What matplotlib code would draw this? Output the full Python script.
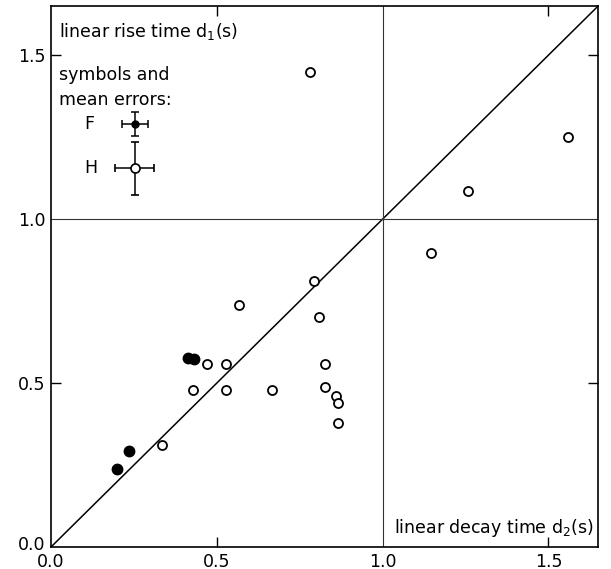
import matplotlib.pyplot as plt
import matplotlib.transforms as mtransforms

# F events (filled symbols): decay time d2, rise time d1
f_decay = [0.200, 0.234, 0.412, 0.432]
f_rise = [0.238, 0.292, 0.577, 0.572]

# H events (open symbols)
h_decay = [0.336, 0.428, 0.470, 0.528, 0.529, 0.567, 0.665, 0.780, 0.793, 0.808,
           0.825, 0.826, 0.858, 0.866, 0.866, 1.147, 1.258, 1.558]
h_rise = [0.311, 0.478, 0.558, 0.558, 0.479, 0.739, 0.479, 1.449, 0.812, 0.700,
          0.488, 0.559, 0.459, 0.439, 0.379, 0.898, 1.087, 1.249]

# mean errors shown in the key
f_key = (0.253, 1.290)
f_err = (0.040, 0.038)
h_key = (0.252, 1.155)
h_err = (0.059, 0.081)

ticks = [0.0, 0.5, 1.0, 1.5]
tick_labels = ['0.0', '0.5', '1.0', '1.5']
lim = 1.65

fig = plt.figure(figsize=(6.11, 5.69), dpi=100)
ax = fig.add_axes([0.0835, 0.0387, 0.8955, 0.9508])

ax.set_xlim(0, lim)
ax.set_ylim(0, lim)

# reference lines
ax.plot([0, lim], [0, lim], color='black', lw=1.1)
ax.axvline(1.0, color='#333333', lw=0.8)
ax.axhline(1.0, color='#333333', lw=0.8)

ax.plot(h_decay, h_rise, 'o', ms=6.5, mfc='white', mec='black', mew=1.3, ls='none')
ax.plot(f_decay, f_rise, 'o', ms=7.5, mfc='black', mec='black', ls='none')

# key with mean errors
ax.errorbar(f_key[0], f_key[1], xerr=f_err[0], yerr=f_err[1], fmt='o', ms=5,
            mfc='black', mec='black', ecolor='black', elinewidth=1.1, capsize=3, capthick=1.1)
ax.errorbar(h_key[0], h_key[1], xerr=h_err[0], yerr=h_err[1], fmt='o', ms=6.5,
            mfc='white', mec='black', mew=1.2, ecolor='black', elinewidth=1.1, capsize=3, capthick=1.1)
ax.text(0.1, f_key[1], 'F', fontsize=12.5, va='center', ha='left')
ax.text(0.1, h_key[1], 'H', fontsize=12.5, va='center', ha='left')

fs = 12.5
ax.text(0.025, 1.572, 'linear rise time d$_1$(s)', fontsize=fs, va='center', ha='left')
ax.text(0.025, 1.44, 'symbols and', fontsize=fs, va='center', ha='left')
ax.text(0.025, 1.362, 'mean errors:', fontsize=fs, va='center', ha='left')
ax.text(1.638, 0.058, 'linear decay time d$_2$(s)', fontsize=fs, va='center', ha='right')

ax.set_xticks(ticks)
ax.set_yticks(ticks)
ax.set_xticklabels(tick_labels, fontsize=12.5)
ax.set_yticklabels(tick_labels, fontsize=12.5)
ax.tick_params(direction='in', length=7, width=1, top=True, right=True, pad=4)
# only 0.5 and 1.5 carry tick marks in the original
for axis in (ax.xaxis, ax.yaxis):
    for i, t in enumerate(axis.get_major_ticks()):
        if ticks[i] in (0.0, 1.0):
            t.tick1line.set_visible(False)
            t.tick2line.set_visible(False)
# nudge the y 0.0 label up a little so it clears the x 0.0 label
lab0 = ax.yaxis.get_majorticklabels()[0]
lab0.set_transform(lab0.get_transform() + mtransforms.ScaledTranslation(0, 3 / 72, fig.dpi_scale_trans))
for s in ax.spines.values():
    s.set_linewidth(1.2)

fig.savefig('out.png', dpi=100)
